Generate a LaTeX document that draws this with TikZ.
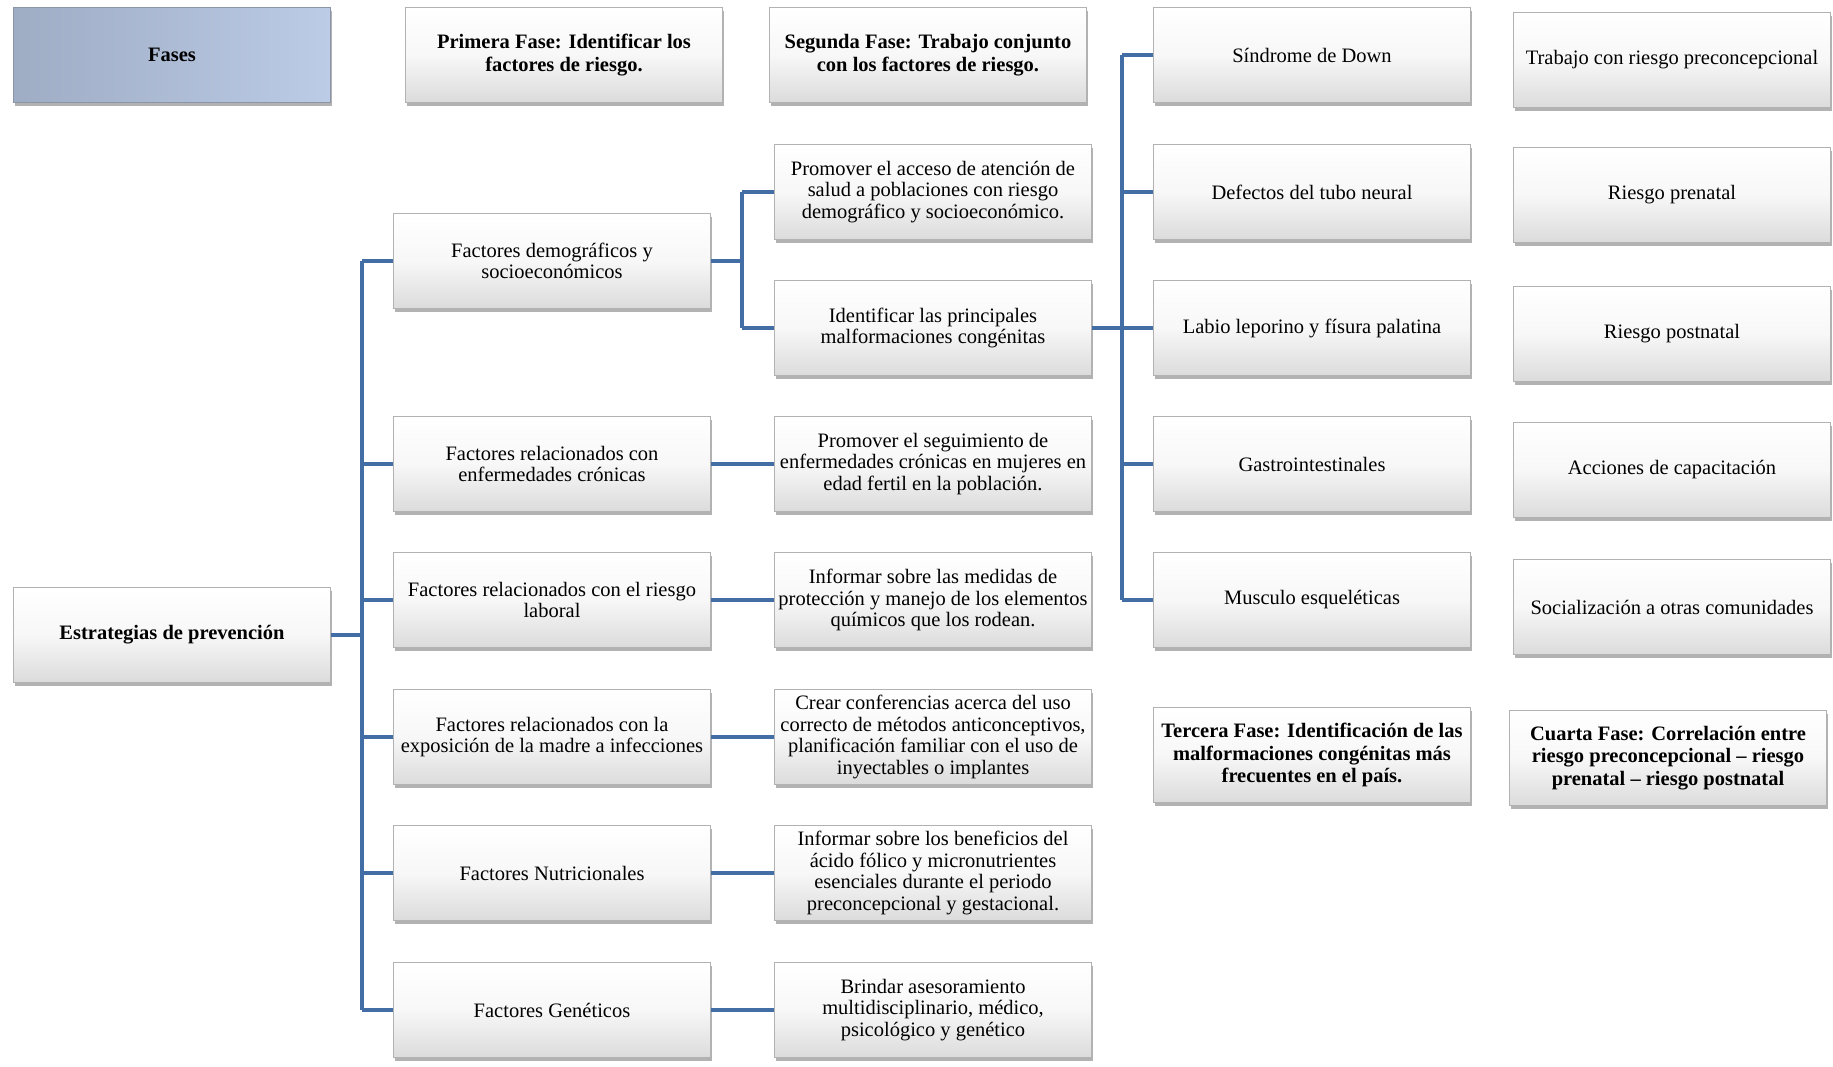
\documentclass[tikz,border=0pt]{standalone}
\usepackage{fontspec}
\setmainfont{Liberation Serif}
\usetikzlibrary{shadows}
\definecolor{conncol}{RGB}{66,110,165}
\definecolor{fasesL}{RGB}{158,172,196}
\definecolor{fasesR}{RGB}{188,203,230}
\tikzset{
  gbox/.style={rectangle, minimum width=317, minimum height=95, inner sep=2,
    align=center, top color=white, bottom color=black!14, middle color=black!3,
    draw=black!30, line width=0.6,
    drop shadow={shadow xshift=1.5pt, shadow yshift=-3.5pt, fill=black, opacity=0.3},
    font=\fontsize{20.5}{21.5}\selectfont},
  hbox/.style={gbox, font=\fontsize{20.5}{22.5}\selectfont\bfseries},
  fbox/.style={hbox, shading angle=0,
    left color=fasesL, right color=fasesR, draw=fasesL!80!black!90},
  conn/.style={draw=conncol, line width=4.5}
}
\begin{document}
\begin{tikzpicture}[x=1pt,y=-1pt]
\useasboundingbox (0,0) rectangle (1833,1066);
% column 1
\node[fbox] (fases) at (172,55) {Fases};
\node[hbox] (est) at (172,635) {Estrategias de prevención};
% headers
\node[hbox] (primera) at (564,55) {Primera Fase: Identificar los\\factores de riesgo.};
\node[hbox] (segunda) at (928,55) {Segunda Fase: Trabajo conjunto\\con los factores de riesgo.};
\node[hbox] (tercera) at (1312,755) {Tercera Fase: Identificación de las\\malformaciones congénitas más\\frecuentes en el país.};
\node[hbox] (cuarta) at (1668,758) {Cuarta Fase: Correlación entre\\riesgo preconcepcional -- riesgo\\prenatal -- riesgo postnatal};
% column 2
\node[gbox] (fdem) at (552,261) {Factores demográficos y\\socioeconómicos};
\node[gbox] (fcron) at (552,464) {Factores relacionados con\\enfermedades crónicas};
\node[gbox] (flab) at (552,600) {Factores relacionados con el riesgo\\laboral};
\node[gbox] (fexp) at (552,737) {Factores relacionados con la\\exposición de la madre a infecciones};
\node[gbox] (fnut) at (552,873) {Factores Nutricionales};
\node[gbox] (fgen) at (552,1010) {Factores Genéticos};
% column 3
\node[gbox] (prom1) at (933,192) {Promover el acceso de atención de\\salud a poblaciones con riesgo\\demográfico y socioeconómico.};
\node[gbox] (ident) at (933,328) {Identificar las principales\\malformaciones congénitas};
\node[gbox] (prom2) at (933,464) {Promover el seguimiento de\\enfermedades crónicas en mujeres en\\edad fertil en la población.};
\node[gbox] (inf1) at (933,600) {Informar sobre las medidas de\\protección y manejo de los elementos\\químicos que los rodean.};
\node[gbox] (crear) at (933,737) {Crear conferencias acerca del uso\\correcto de métodos anticonceptivos,\\planificación familiar con el uso de\\inyectables o implantes};
\node[gbox] (inf2) at (933,873) {Informar sobre los beneficios del\\ácido fólico y micronutrientes\\esenciales durante el periodo\\preconcepcional y gestacional.};
\node[gbox] (brindar) at (933,1010) {Brindar asesoramiento\\multidisciplinario, médico,\\psicológico y genético};
% column 4
\node[gbox] (sind) at (1312,55) {Síndrome de Down};
\node[gbox] (defectos) at (1312,192) {Defectos del tubo neural};
\node[gbox] (labio) at (1312,328) {Labio leporino y físura palatina};
\node[gbox] (gastro) at (1312,464) {Gastrointestinales};
\node[gbox] (musc) at (1312,600) {Musculo esqueléticas};
% column 5
\node[gbox] (trab) at (1672,60) {Trabajo con riesgo preconcepcional};
\node[gbox] (rpre) at (1672,195) {Riesgo prenatal};
\node[gbox] (rpost) at (1672,334) {Riesgo postnatal};
\node[gbox] (acc) at (1672,470) {Acciones de capacitación};
\node[gbox] (soc) at (1672,607) {Socialización a otras comunidades};
% connectors
\coordinate (t1) at (362,0);
\coordinate (t2) at (742,0);
\coordinate (t3) at (1122,0);
\draw[conn] (est.east) -- (est.east -| t1);
\draw[conn] (t1 |- fdem) -- (t1 |- fgen);
\foreach \n in {fdem,fcron,flab,fexp,fnut,fgen}
  \draw[conn] (t1 |- \n) -- (\n.west);
\draw[conn] (fdem.east) -- (fdem.east -| t2);
\draw[conn] (t2 |- prom1) -- (t2 |- ident);
\draw[conn] (t2 |- prom1) -- (prom1.west);
\draw[conn] (t2 |- ident) -- (ident.west);
\draw[conn] (fcron.east) -- (prom2.west);
\draw[conn] (flab.east) -- (inf1.west);
\draw[conn] (fexp.east) -- (crear.west);
\draw[conn] (fnut.east) -- (inf2.west);
\draw[conn] (fgen.east) -- (brindar.west);
\draw[conn] (ident.east) -- (ident.east -| t3);
\draw[conn] (t3 |- sind) -- (t3 |- musc);
\foreach \n in {sind,defectos,labio,gastro,musc}
  \draw[conn] (t3 |- \n) -- (\n.west);
\end{tikzpicture}
\end{document}
